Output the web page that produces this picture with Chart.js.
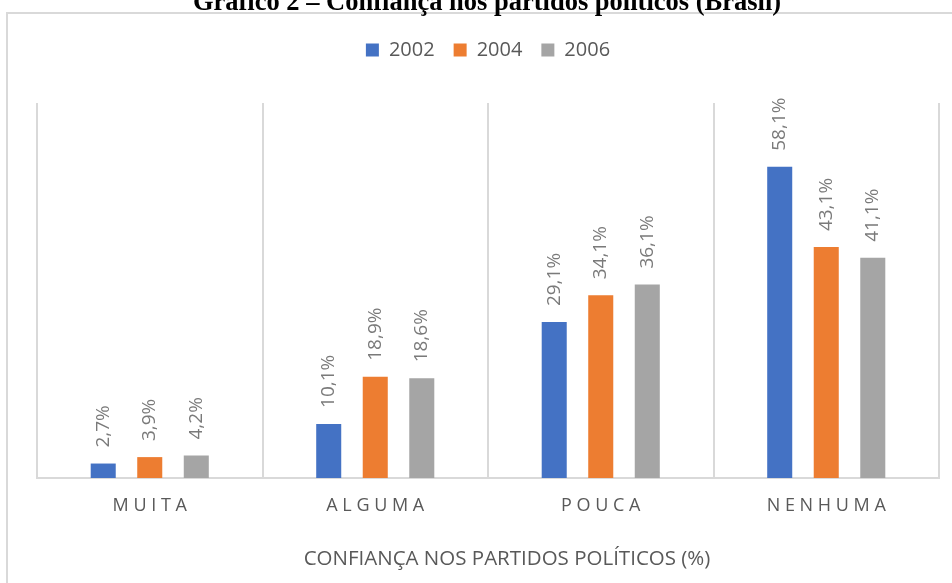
<!DOCTYPE html>
<html>
<head>
<meta charset="utf-8">
<script src="https://cdn.jsdelivr.net/npm/chart.js@4.4.1/dist/chart.umd.min.js"></script>
<style>
  html, body { margin: 0; padding: 0; background: #ffffff; overflow: hidden; }
  #frame {
    position: absolute; left: 6px; top: 12px; width: 1000px; height: 620px;
    border: 2px solid #d9d9d9; box-sizing: border-box;
  }
  #title {
    position: absolute; left: 0; top: -12px; width: 974px;
    text-align: center; white-space: nowrap;
    font: bold 26.5px/26.5px "Liberation Serif", "Times New Roman", serif;
    color: #000000;
  }
  #wrap { position: absolute; left: 0; top: 0; width: 952px; height: 583px; }
</style>
</head>
<body>
<div id="frame"></div>
<div id="wrap"><canvas id="chart" width="952" height="583"></canvas></div>
<div id="title">Gráfico 2 – Confiança nos partidos políticos (Brasil)</div>
<script>
// Data
const categories = ['MUITA', 'ALGUMA', 'POUCA', 'NENHUMA'];
const years = ['2002', '2004', '2006'];
const values2002 = [2.7, 10.1, 29.1, 58.1];
const values2004 = [3.9, 18.9, 34.1, 43.1];
const values2006 = [4.2, 18.6, 36.1, 41.1];
const yMax = 70;
const axisTitle = 'CONFIANÇA NOS PARTIDOS POLÍTICOS (%)';

const colors = ['#4472c4', '#ed7d31', '#a5a5a5'];
const textGray = '#595959';

Chart.defaults.font.family = "'Open Sans', sans-serif";

// Push the plot area down below the legend
const legendSpace = {
  id: 'legendSpace',
  beforeInit(chart) {
    const fit = chart.legend.fit;
    chart.legend.fit = function () {
      fit.call(this);
      this.height += 33;
    };
  }
};

// Rotated value labels above every bar
const barLabels = {
  id: 'barLabels',
  afterDatasetsDraw(chart) {
    const ctx = chart.ctx;
    ctx.save();
    ctx.font = "19px 'Open Sans', sans-serif";
    ctx.fillStyle = '#7a7a7a';
    ctx.textAlign = 'left';
    ctx.textBaseline = 'middle';
    chart.data.datasets.forEach((ds, i) => {
      chart.getDatasetMeta(i).data.forEach((bar, j) => {
        const txt = ds.data[j].toFixed(1).replace('.', ',') + '%';
        ctx.save();
        ctx.translate(bar.x, bar.y - 16);
        ctx.rotate(-Math.PI / 2);
        ctx.fillText(txt, 0, 0);
        ctx.restore();
      });
    });
    ctx.restore();
  }
};

// Axis title (centred on the whole chart frame, which runs past the right edge)
const xTitle = {
  id: 'xTitle',
  afterDraw(chart) {
    const ctx = chart.ctx;
    const area = chart.chartArea;
    ctx.save();
    ctx.font = "20.5px 'Open Sans', sans-serif";
    ctx.fillStyle = textGray;
    ctx.textAlign = 'center';
    ctx.textBaseline = 'alphabetic';
    ctx.fillText(axisTitle, (area.left + area.right) / 2 + 19, chart.height - 18);
    ctx.restore();
  }
};

new Chart(document.getElementById('chart').getContext('2d'), {
  type: 'bar',
  data: {
    labels: categories,
    datasets: [
      { label: years[0], data: values2002, backgroundColor: colors[0] },
      { label: years[1], data: values2004, backgroundColor: colors[1] },
      { label: years[2], data: values2006, backgroundColor: colors[2] },
    ],
  },
  options: {
    responsive: false,
    animation: false,
    layout: { padding: { left: 37, right: 13, top: 21, bottom: 0 } },
    datasets: {
      bar: { categoryPercentage: 0.619, barPercentage: 0.538, borderWidth: 0 },
    },
    plugins: {
      legend: {
        position: 'top',
        labels: {
          boxWidth: 13,
          boxHeight: 13,
          padding: 19,
          color: textGray,
          font: { size: 20 },
        },
      },
      tooltip: { enabled: false },
    },
    scales: {
      x: {
        grid: { color: '#d9d9d9', lineWidth: 2, drawTicks: false, offset: true },
        border: { color: '#d9d9d9', width: 2 },
        ticks: {
          color: textGray,
          font: { size: 18 },
          padding: 17,
          callback(value) { return categories[value].split('').join(' '); },
        },
        afterFit(scale) { scale.height = 105; },
      },
      y: {
        display: false,
        min: 0,
        max: yMax,
      },
    },
  },
  plugins: [legendSpace, barLabels, xTitle],
});
</script>
</body>
</html>
